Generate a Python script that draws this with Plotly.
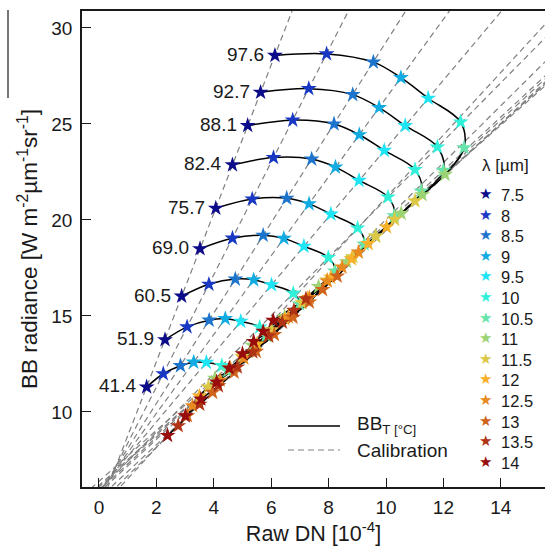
import plotly.graph_objects as go

# ---------------- data ----------------
temps = ["41.4", "51.9", "60.5", "69.0", "75.7", "82.4", "88.1", "92.7", "97.6"]
wavelengths = ["7.5", "8", "8.5", "9", "9.5", "10", "10.5", "11", "11.5", "12", "12.5", "13", "13.5", "14"]

raw_dn_41 = [1.66, 2.24, 2.84, 3.30, 3.74, 4.28, 4.48, 4.04, 3.81, 3.50, 3.26, 3.08, 2.76, 2.39]
raw_dn_52 = [2.30, 3.07, 3.84, 4.40, 4.94, 5.60, 5.82, 5.34, 4.99, 4.58, 4.22, 3.96, 3.51, 3.01]
raw_dn_60 = [2.88, 3.83, 4.75, 5.39, 6.01, 6.77, 6.99, 6.47, 6.01, 5.51, 5.05, 4.71, 4.16, 3.55]
raw_dn_69 = [3.52, 4.65, 5.72, 6.44, 7.14, 7.99, 8.22, 7.65, 7.08, 6.48, 5.91, 5.48, 4.82, 4.10]
raw_dn_76 = [4.07, 5.34, 6.54, 7.32, 8.08, 9.01, 9.24, 8.63, 7.95, 7.27, 6.60, 6.11, 5.36, 4.54]
raw_dn_82 = [4.65, 6.08, 7.41, 8.24, 9.06, 10.07, 10.29, 9.64, 8.85, 8.08, 7.33, 6.76, 5.91, 5.00]
raw_dn_88 = [5.18, 6.75, 8.19, 9.07, 9.94, 11.01, 11.23, 10.53, 9.64, 8.80, 7.95, 7.33, 6.39, 5.39]
raw_dn_93 = [5.63, 7.31, 8.84, 9.76, 10.67, 11.79, 12.00, 11.26, 10.30, 9.38, 8.47, 7.79, 6.79, 5.72]
raw_dn_98 = [6.13, 7.93, 9.56, 10.52, 11.47, 12.60, 12.72, 12.06, 11.01, 10.02, 9.04, 8.30, 7.21, 6.07]

rad_41 = [11.30, 11.99, 12.41, 12.59, 12.58, 12.41, 12.13, 11.75, 11.30, 10.82, 10.32, 9.80, 9.28, 8.77]
rad_52 = [13.76, 14.43, 14.78, 14.86, 14.72, 14.42, 13.98, 13.47, 12.89, 12.28, 11.65, 11.02, 10.40, 9.79]
rad_60 = [16.03, 16.65, 16.92, 16.88, 16.62, 16.18, 15.62, 14.97, 14.27, 13.54, 12.80, 12.07, 11.36, 10.67]
rad_69 = [18.50, 19.05, 19.20, 19.04, 18.63, 18.04, 17.33, 16.53, 15.69, 14.84, 13.99, 13.15, 12.34, 11.56]
rad_76 = [20.61, 21.09, 21.13, 20.84, 20.30, 19.58, 18.74, 17.82, 16.87, 15.91, 14.95, 14.03, 13.13, 12.28]
rad_82 = [22.87, 23.25, 23.17, 22.75, 22.06, 21.19, 20.21, 19.16, 18.08, 17.01, 15.95, 14.93, 13.95, 13.03]
rad_88 = [24.92, 25.20, 25.00, 24.44, 23.62, 22.62, 21.51, 20.34, 19.15, 17.97, 16.82, 15.72, 14.67, 13.67]
rad_93 = [26.65, 26.84, 26.53, 25.85, 24.91, 23.80, 22.58, 21.31, 20.03, 18.77, 17.54, 16.37, 15.29, 14.20]
rad_98 = [28.57, 28.65, 28.22, 27.41, 26.34, 25.10, 23.76, 22.37, 20.99, 19.63, 18.32, 17.07, 15.89, 14.77]

calib_gain = [3.864, 2.928, 2.353, 2.053, 1.780, 1.516, 1.390, 1.325, 1.346, 1.351, 1.386, 1.395, 1.483, 1.628]
calib_offset = [4.89, 5.44, 5.74, 5.82, 5.92, 5.92, 5.90, 6.39, 6.17, 6.09, 5.80, 5.50, 5.19, 4.89]

x_ticks = [0, 2, 4, 6, 8, 10, 12, 14]
y_ticks = [10, 15, 20, 25, 30]

raw_dn = [raw_dn_41, raw_dn_52, raw_dn_60, raw_dn_69, raw_dn_76, raw_dn_82, raw_dn_88, raw_dn_93, raw_dn_98]
radiance = [rad_41, rad_52, rad_60, rad_69, rad_76, rad_82, rad_88, rad_93, rad_98]

# ---------------- style ----------------
palette = ['#0c0c8a', '#1838c4', '#1c74cc', '#12ace2', '#1ee4f4', '#30f0da', '#66e4aa',
           '#9cd474', '#dcc844', '#f6b02a', '#e88a20', '#d0641c', '#b03414', '#980c0c']
FONT = "Liberation Sans, Arial, Helvetica, sans-serif"
INK = "#1a1a1a"
X_RANGE = [-0.592, 15.54]
Y_RANGE = [6.09, 30.885]

fig = go.Figure()

# calibration lines (dashed)
for g, o in zip(calib_gain, calib_offset):
    xs = [X_RANGE[0] - 1, X_RANGE[1] + 1]
    fig.add_trace(go.Scatter(x=xs, y=[g * v + o for v in xs], mode="lines",
                             line=dict(color="#808080", width=1.2, dash="6px,4px"),
                             showlegend=False, hoverinfo="skip"))

# BB temperature curves
for xs, ys in zip(raw_dn, radiance):
    fig.add_trace(go.Scatter(x=xs, y=ys, mode="lines",
                             line=dict(color="black", width=1.5, shape="spline", smoothing=1.0),
                             showlegend=False, hoverinfo="skip"))

# star markers per wavelength
for j, lam in enumerate(wavelengths):
    fig.add_trace(go.Scatter(x=[row[j] for row in raw_dn], y=[row[j] for row in radiance],
                             mode="markers", name=lam, showlegend=False,
                             marker=dict(symbol="star", size=12, color=palette[j], line=dict(width=0))))

# temperature labels
for t, xs, ys in zip(temps, raw_dn, radiance):
    fig.add_annotation(x=xs[0], y=ys[0], text=t, showarrow=False, xanchor="right", yanchor="middle",
                       xshift=-9, yshift=1, font=dict(size=19, color=INK, family=FONT))

W, H = 545, 551
L, R, T, B = 82, 0, 11, 64
pw, ph = W - L - R, H - T - B
px = lambda p: (p - L) / pw
py = lambda p: (H - B - p) / ph

# wavelength legend (manual, to match the reference's tight spacing)
fig.add_annotation(xref="paper", yref="paper", x=px(480), y=py(166), text="λ [µm]", showarrow=False,
                   xanchor="left", yanchor="middle", font=dict(size=17, color=INK, family=FONT))
for i, lam in enumerate(wavelengths):
    yy = py(195 + 20.6 * i)
    fig.add_annotation(xref="paper", yref="paper", x=px(485), y=yy, text="★", showarrow=False,
                       xanchor="center", yanchor="middle", yshift=1,
                       font=dict(size=15, color=palette[i], family="DejaVu Sans"))
    fig.add_annotation(xref="paper", yref="paper", x=px(499), y=yy, text=lam, showarrow=False,
                       xanchor="left", yanchor="middle", font=dict(size=16.5, color=INK, family=FONT))

# line legend (manual)
fig.add_shape(type="line", xref="paper", yref="paper", x0=px(288), x1=px(340), y0=py(426), y1=py(426),
              line=dict(color="black", width=1.5))
fig.add_shape(type="line", xref="paper", yref="paper", x0=px(288), x1=px(340), y0=py(450), y1=py(450),
              line=dict(color="#808080", width=1.2, dash="6px,4px"))
fig.add_annotation(xref="paper", yref="paper", x=px(355), y=py(425), text="BB<sub>T [°C]</sub>", showarrow=False,
                   xanchor="left", yanchor="middle", font=dict(size=19, color=INK, family=FONT))
fig.add_annotation(xref="paper", yref="paper", x=px(355), y=py(450), text="Calibration", showarrow=False,
                   xanchor="left", yanchor="middle", font=dict(size=19, color=INK, family=FONT))

# thin vertical rule at the far left above the y title (as in the reference)
fig.add_shape(type="line", xref="paper", yref="paper", x0=px(8), x1=px(8), y0=py(10), y1=py(98),
              line=dict(color=INK, width=1.2))

axis_common = dict(showgrid=False, zeroline=False, showline=True, linecolor=INK, linewidth=1.5,
                   ticks="inside", ticklen=9, tickwidth=1.3, tickcolor=INK,
                   tickfont=dict(size=19, color=INK, family=FONT))

fig.update_layout(
    width=W, height=H, margin=dict(l=L, r=R, t=T, b=B),
    paper_bgcolor="white", plot_bgcolor="white",
    font=dict(family=FONT, color=INK),
    xaxis=dict(range=X_RANGE, tickvals=x_ticks, mirror=True, ticklabelstandoff=2,
               title=dict(text="Raw DN [10<sup>-4</sup>]", font=dict(size=21.5, color=INK, family=FONT), standoff=8),
               **axis_common),
    yaxis=dict(range=Y_RANGE, tickvals=y_ticks, ticklabelstandoff=4,
               title=dict(text="BB radiance [W m<sup>-2</sup>µm<sup>-1</sup>sr<sup>-1</sup>]",
                          font=dict(size=22.5, color=INK, family=FONT), standoff=7),
               **axis_common),
    showlegend=False,
)

fig.write_html("out.html")
